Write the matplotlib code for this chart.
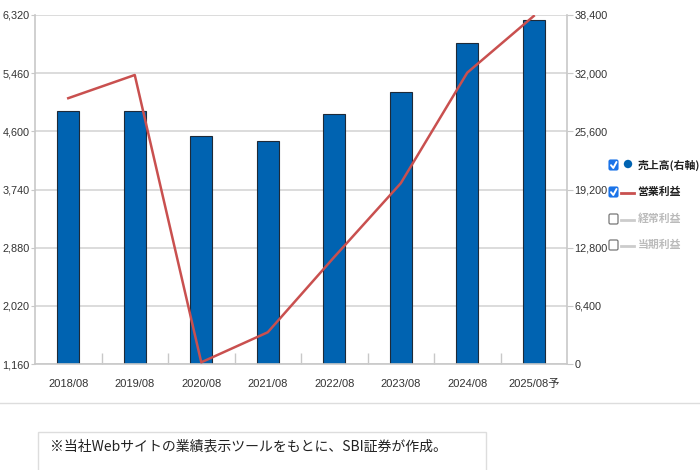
import matplotlib
matplotlib.use("Agg")
import matplotlib.pyplot as plt
from matplotlib import font_manager
from matplotlib.patches import Rectangle, Circle, FancyBboxPatch
import numpy as np

plt.rcParams['font.family'] = ['Noto Sans CJK JP', 'DejaVu Sans']
_names = {f.name for f in font_manager.fontManager.ttflist}
narrow = 'Liberation Sans Narrow' if 'Liberation Sans Narrow' in _names else 'Liberation Sans'
tick_family = [narrow, 'Noto Sans CJK JP']

categories = ["2018/08", "2019/08", "2020/08", "2021/08", "2022/08", "2023/08", "2024/08", "2025/08予"]
sales = [27870, 27870, 25090, 24570, 27470, 29960, 35290, 37850]          # 売上高 (right axis)
op_profit = [5090, 5433, 1185, 1629, 2742, 3832, 5467, 6305]              # 営業利益 (left axis)
left_ticks = [1160, 2020, 2880, 3740, 4600, 5460, 6320]
right_ticks = [0, 6400, 12800, 19200, 25600, 32000, 38400]
legend_labels = ["売上高(右軸)", "営業利益", "経常利益", "当期利益"]
footnote = "※当社Webサイトの業績表示ツールをもとに、SBI証券が作成。"

W, H = 700, 470
fig = plt.figure(figsize=(W / 100, H / 100), dpi=100)
fig.patch.set_facecolor("white")

L, R, T, B = 35, 567, 15, 364
ax = fig.add_axes([L / W, 1 - B / H, (R - L) / W, (B - T) / H])
ax2 = ax.twinx()
x = np.arange(len(categories))

grid_c = "#d9d9d9"
spine_c = "#c8c8c8"
txt_c = "#333333"
fs_tick = 7.8

# bars on right axis
ax.bar(x, sales, width=0.33, color="#0063b1", edgecolor="#1e2a38", linewidth=0.8, zorder=2)
ax.set_ylim(0, 38400)
ax.set_xlim(-0.5, len(categories) - 0.5)
ax.yaxis.tick_right()
ax.set_yticks(right_ticks)
ax.set_yticklabels([f"{v:,}" for v in right_ticks])
ax.grid(axis="y", color=grid_c, linewidth=1.3, zorder=0)
ax.set_axisbelow(True)

ax.set_xticks(x)
ax.set_xticklabels(categories)
ax.set_xticks(np.arange(len(categories) - 1) + 0.5, minor=True)
ax.tick_params(axis="x", which="major", length=0, pad=11, labelsize=8, labelcolor=txt_c)
ax.tick_params(axis="x", which="minor", direction="in", length=8, color=spine_c, width=1)
ax.tick_params(axis="y", which="major", direction="out", length=4, color=spine_c,
               labelsize=fs_tick, labelcolor=txt_c, pad=1.5)
for lab in ax.get_xticklabels() + ax.get_yticklabels():
    lab.set_family(tick_family)

ax.spines["top"].set_visible(False)
for s in ["left", "right", "bottom"]:
    ax.spines[s].set_color(spine_c)
    ax.spines[s].set_linewidth(1.2)

# line on left axis
ax2.plot(x, op_profit, color="#c9504f", linewidth=1.8, zorder=3)
ax2.set_ylim(1160, 6320)
ax2.yaxis.tick_left()
ax2.set_yticks(left_ticks)
ax2.set_yticklabels([f"{v:,}" for v in left_ticks])
ax2.tick_params(axis="y", direction="out", length=3, color=spine_c,
                labelsize=fs_tick, labelcolor=txt_c, pad=1)
for lab in ax2.get_yticklabels():
    lab.set_family(tick_family)
for s in ["top", "right", "bottom", "left"]:
    ax2.spines[s].set_visible(False)

# overlay for legend and footnote, in pixel coords
ov = fig.add_axes([0, 0, 1, 1], zorder=10)
ov.set_xlim(0, W)
ov.set_ylim(H, 0)
ov.axis("off")
ov.patch.set_alpha(0)

rows_y = [165, 192, 219, 245]
for i, (lab, y) in enumerate(zip(legend_labels, rows_y)):
    checked = i < 2
    if checked:
        ov.add_patch(FancyBboxPatch((609, y - 5), 9, 10, boxstyle="round,pad=0,rounding_size=1.5",
                                    facecolor="#1a73e8", edgecolor="#1a73e8", linewidth=0.8))
        ov.plot([611, 613.3, 616.5], [y + 0.2, y + 3, y - 3], color="white", linewidth=1.4,
                solid_capstyle="round")
    else:
        ov.add_patch(FancyBboxPatch((609, y - 5), 9, 10, boxstyle="round,pad=0,rounding_size=1.5",
                                    facecolor="white", edgecolor="#777777", linewidth=0.9))
    if i == 0:
        ov.add_patch(Circle((628, y - 1), 4.2, facecolor="#0063b1", edgecolor="none"))
        tc = "#222222"
    elif i == 1:
        ov.plot([621, 634], [y + 1, y + 1], color="#c9504f", linewidth=2)
        tc = "#222222"
    else:
        ov.plot([621, 634], [y + 1, y + 1], color="#cccccc", linewidth=2)
        tc = "#bbbbbb"
    ov.text(637.5, y, lab, fontsize=7.8, color=tc, va="center", ha="left", fontweight="bold")

# separator and footnote box
ov.plot([0, W], [403, 403], color="#dddddd", linewidth=1)
ov.add_patch(Rectangle((38, 432), 448, 40, facecolor="white", edgecolor="#dddddd", linewidth=1))
ov.text(50, 447, footnote, fontsize=10, color="#222222", va="center", ha="left")

fig.savefig("out.png", dpi=100, facecolor="white")
